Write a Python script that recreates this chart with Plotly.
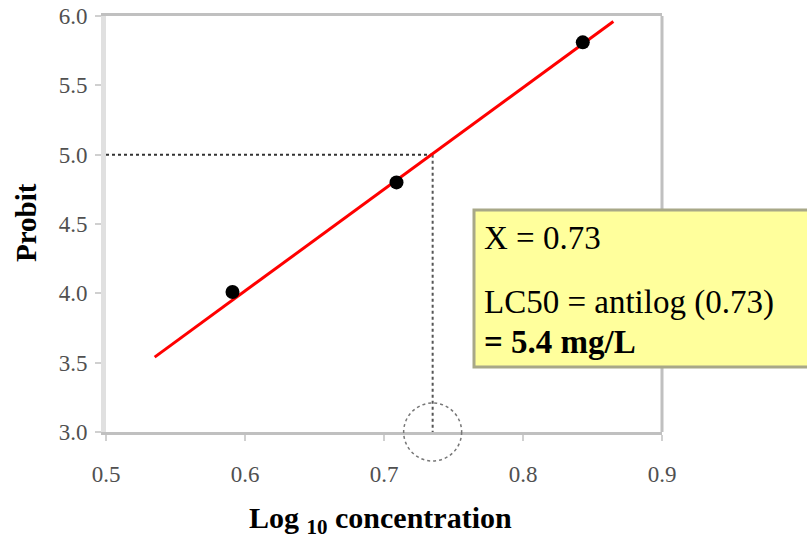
import plotly.graph_objects as go

# ---- data ----
log_conc = [0.591, 0.709, 0.843]
probit = [4.01, 4.80, 5.81]
fit_x = [0.535, 0.865]
fit_y = [3.54, 5.96]
lc50_x = 0.735
target_probit = 5.0
x_ticks = [0.5, 0.6, 0.7, 0.8, 0.9]
x_labels = ["0.5", "0.6", "0.7", "0.8", "0.9"]
y_ticks = [3.0, 3.5, 4.0, 4.5, 5.0, 5.5, 6.0]
y_labels = ["3.0", "3.5", "4.0", "4.5", "5.0", "5.5", "6.0"]
x_range = [0.5, 0.9]
y_range = [3.0, 6.0]
box_lines = ["X = 0.73", "LC50 = antilog (0.73)", "<b>= 5.4 mg/L</b>"]

W, H = 807, 540
# plot area in screen pixels
SX0, SX1, SY0, SY1 = 106, 662, 16, 432
L, T = SX0, SY0
R = W - SX1
B = H - SY1
pw, ph = SX1 - SX0, SY1 - SY0

def px(x):
    return (x - SX0) / pw

def py(y):
    return (SY1 - y) / ph

SERIF = "Liberation Serif, Times New Roman, serif"

fig = go.Figure()

# dotted guide lines
fig.add_trace(go.Scatter(x=[x_range[0], lc50_x], y=[target_probit, target_probit],
                         mode="lines", line=dict(color="#333333", width=2, dash="dot"),
                         hoverinfo="skip", showlegend=False))
fig.add_trace(go.Scatter(x=[lc50_x, lc50_x], y=[target_probit, y_range[0]],
                         mode="lines", line=dict(color="#555555", width=2, dash="dot"),
                         hoverinfo="skip", showlegend=False))
# fitted line
fig.add_trace(go.Scatter(x=fit_x, y=fit_y, mode="lines",
                         line=dict(color="#ff0000", width=3), showlegend=False))
# data points
fig.add_trace(go.Scatter(x=log_conc, y=probit, mode="markers",
                         marker=dict(color="black", size=14), showlegend=False))

shapes = []
# right border
shapes.append(dict(type="line", xref="paper", yref="paper", x0=1, x1=1, y0=0, y1=1,
                   line=dict(color="#c0c0c0", width=3), layer="above"))
# dashed circle at LC50 on the x axis
cx = (lc50_x - x_range[0]) / (x_range[1] - x_range[0])
shapes.append(dict(type="circle", xref="paper", yref="paper",
                   xsizemode="pixel", ysizemode="pixel",
                   xanchor=cx, yanchor=0, x0=-29, x1=29, y0=-29, y1=29,
                   line=dict(color="#777777", width=1.5, dash="dot"), layer="above"))
# yellow box
shapes.append(dict(type="rect", xref="paper", yref="paper",
                   x0=px(474), x1=px(830), y0=py(367), y1=py(210),
                   fillcolor="#ffff9c", line=dict(color="#a8a888", width=3), layer="above"))

annotations = []
for txt, yc in zip(box_lines, [238, 302, 342]):
    annotations.append(dict(xref="paper", yref="paper", x=px(482), y=py(yc),
                            xanchor="left", yanchor="middle", showarrow=False,
                            text=txt, font=dict(family=SERIF, size=33, color="black")))
annotations.append(dict(xref="paper", yref="paper", x=px(26), y=py(223),
                        xanchor="center", yanchor="middle", textangle=-90, showarrow=False,
                        text="<b>Probit</b>", font=dict(family=SERIF, size=29, color="black")))
annotations.append(dict(xref="paper", yref="paper", x=px(380), y=py(520),
                        xanchor="center", yanchor="middle", showarrow=False,
                        text="<b>Log <sub>10</sub> concentration</b>",
                        font=dict(family=SERIF, size=30, color="black")))

fig.update_layout(
    template="none",
    width=W, height=H,
    margin=dict(l=L, r=R, t=T, b=B, pad=0, autoexpand=False),
    paper_bgcolor="white", plot_bgcolor="white",
    shapes=shapes, annotations=annotations,
    xaxis=dict(range=x_range, tickvals=x_ticks, ticktext=x_labels, automargin=False,
               showgrid=False, zeroline=False,
               showline=True, linecolor="#c0c0c0", linewidth=3, mirror=True,
               ticks="outside", ticklen=6, tickcolor="#d0d0d0", tickwidth=2,
               ticklabelstandoff=13,
               tickfont=dict(family=SERIF, size=23, color="#505050")),
    yaxis=dict(range=y_range, tickvals=y_ticks, ticktext=y_labels, automargin=False,
               showgrid=False, zeroline=False,
               showline=True, linecolor="#e0e0e0", linewidth=5,
               ticks="outside", ticklen=6, tickcolor="#d0d0d0", tickwidth=2,
               ticklabelstandoff=3,
               tickfont=dict(family=SERIF, size=23, color="#505050")),
)

fig.write_html("out.html", config={"displayModeBar": False},
               post_script="document.body.style.margin='0px';")
